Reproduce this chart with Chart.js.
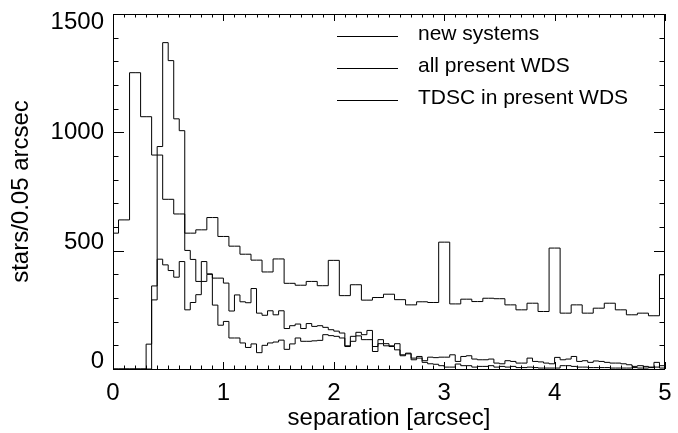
<!DOCTYPE html>
<html><head><meta charset="utf-8">
<script src="https://cdn.jsdelivr.net/npm/chart.js@4.4.0/dist/chart.umd.min.js"></script>
<style>html,body{margin:0;padding:0;background:#fff;overflow:hidden}#wrap{width:678px;height:433px;position:relative}</style>
</head><body><div id="wrap"><canvas id="c" width="678" height="433"></canvas></div>
<script>
// ---- data (histogram, bin width 0.05 arcsec, 100 bins from 0 to 5) ----
const binStart = 0;
const binWidth = 0.05;
const seriesLabels = ['new systems', 'all present WDS', 'TDSC in present WDS'];
const newSystems = [
  0,0,0,0,0,0,0,351,464,440, 416,388,454,250,281,314,454,402,270,185,
  201,131,131,110,91,106,69,100,110,114, 122,83,106,131,117,117,119,121,145,141,
  138,131,95,117,140,124,124,74,107,98, 95,81,56,64,39,46,28,22,20,14,
  8,8,21,14,14,8,11,11,14,8, 11,8,11,6,6,8,6,4,4,4,
  4,14,14,11,8,8,6,6,6,6, 4,4,4,4,6,4,4,6,8,14
];
const allPresentWDS = [
  574,630,630,1252,1252,1066,1066,904,904,717, 717,655,655,574,574,588,588,640,640,560,
  560,519,519,485,485,460,460,410,410,465, 465,362,362,354,354,370,370,352,352,459,
  459,310,310,356,356,291,291,302,302,316, 316,293,293,271,271,284,284,281,281,536,
  536,275,275,295,295,285,285,299,299,297, 297,271,271,250,250,278,278,243,243,511,
  511,236,236,271,271,236,236,257,257,278, 278,250,250,229,229,236,236,225,225,398
];
const tdscInWDS = [
  0,0,0,0,0,0,105,292,940,1379, 1303,1057,1007,501,463,370,370,400,384,384,
  363,245,313,284,280,340,236,227,246,229, 246,171,183,190,171,192,180,183,176,166,
  160,152,98,138,155,145,163,95,124,107, 98,107,60,67,46,53,35,50,48,50,
  50,60,32,53,56,42,39,39,42,25, 22,35,32,25,25,46,32,30,25,22,
  49,39,42,53,32,35,28,34,32,28, 25,25,22,18,11,14,11,8,28,4
];
const xTickValues = [0, 1, 2, 3, 4, 5];
const yTickValues = [0, 500, 1000, 1500];
const xTitle = 'separation [arcsec]';
const yTitle = 'stars/0.05 arcsec';

// bin edges -> step points (last value repeated at right edge)
function toSteps(vals) {
  const pts = [];
  for (let i = 0; i < vals.length; i++) pts.push({x: binStart + i * binWidth, y: vals[i]});
  pts.push({x: binStart + vals.length * binWidth, y: vals[vals.length - 1]});
  return pts;
}

const FONT = '"Liberation Sans", Arial, Helvetica, sans-serif';

const frameTicks = {
  id: 'frameTicks',
  afterDraw(chart) {
    const {ctx, chartArea: a, scales: {x, y}} = chart;
    ctx.save();
    ctx.strokeStyle = '#000';
    ctx.lineWidth = 1;
    ctx.strokeRect(Math.round(a.left) + 0.5, Math.round(a.top) + 0.5,
                   Math.round(a.right - a.left) - 1, Math.round(a.bottom - a.top));
    ctx.beginPath();
    for (let k = 0; k <= 50; k++) {
      const v = k / 10;
      const px = Math.round(x.getPixelForValue(v)) + 0.5;
      const len = (k % 10 === 0) ? 7 : 3.5;
      ctx.moveTo(px, a.bottom); ctx.lineTo(px, a.bottom - len);
      ctx.moveTo(px, a.top); ctx.lineTo(px, a.top + len);
    }
    for (let k = 0; k <= 15; k++) {
      const v = k * 100;
      const py = Math.round(y.getPixelForValue(v)) + 0.5;
      const len = (k % 5 === 0) ? 11 : 5.5;
      ctx.moveTo(a.left, py); ctx.lineTo(a.left + len, py);
      ctx.moveTo(a.right, py); ctx.lineTo(a.right - len, py);
    }
    ctx.stroke();
    // legend
    ctx.font = '21px ' + FONT;
    ctx.fillStyle = '#000';
    ctx.textBaseline = 'alphabetic';
    ctx.textAlign = 'left';
    const rows = [40, 72, 104];
    seriesLabels.forEach((lab, i) => {
      const ly = rows[i];
      ctx.beginPath();
      ctx.moveTo(337, ly - 3.5); ctx.lineTo(398, ly - 3.5);
      ctx.stroke();
      ctx.fillText(lab, 418, ly);
    });
    ctx.restore();
  }
};

const ds = (label, vals) => ({
  label, data: toSteps(vals), stepped: 'before',
  borderColor: '#000', borderWidth: 1, pointRadius: 0, fill: false, tension: 0
});

// top label nudged down, lower labels nudged up (as in the reference)
function yLabel(v) {
  const s = String(v);
  if (v === 1500) return ['', s];
  if (v === 1000) return s;
  return [s, ''];
}

new Chart(document.getElementById('c'), {
  type: 'line',
  data: { datasets: [ds(seriesLabels[0], newSystems), ds(seriesLabels[1], allPresentWDS), ds(seriesLabels[2], tdscInWDS)] },
  options: {
    responsive: false, animation: false, devicePixelRatio: 1,
    layout: { padding: { left: 0, top: 14, right: 13, bottom: 0 } },
    plugins: { legend: { display: false }, tooltip: { enabled: false } },
    scales: {
      x: {
        type: 'linear', min: 0, max: 5,
        afterBuildTicks(s) { s.ticks = xTickValues.map(v => ({value: v})); },
        afterFit(s) { s.height = 64; s.paddingLeft = 0; s.paddingRight = 0; },
        grid: { display: false, drawTicks: false },
        border: { display: false },
        ticks: { padding: 10, color: '#000', font: { family: FONT, size: 24 }, maxRotation: 0, callback: v => String(v) },
        title: { display: true, text: xTitle, color: '#000', font: { family: FONT, size: 24 }, padding: { top: 0, bottom: 0 } }
      },
      y: {
        type: 'linear', min: 0, max: 1500,
        afterBuildTicks(s) { s.ticks = yTickValues.map(v => ({value: v})); },
        afterFit(s) { s.width = 113; s.paddingTop = 0; s.paddingBottom = 0; },
        grid: { display: false, drawTicks: false },
        border: { display: false },
        ticks: { padding: 9, color: '#000', font: { family: FONT, size: 24, lineHeight: '16px' }, callback: yLabel },
        title: { display: true, text: yTitle, color: '#000', font: { family: FONT, size: 24 }, padding: { top: 7, bottom: 0 } }
      }
    }
  },
  plugins: [frameTicks]
});
</script></body></html>
